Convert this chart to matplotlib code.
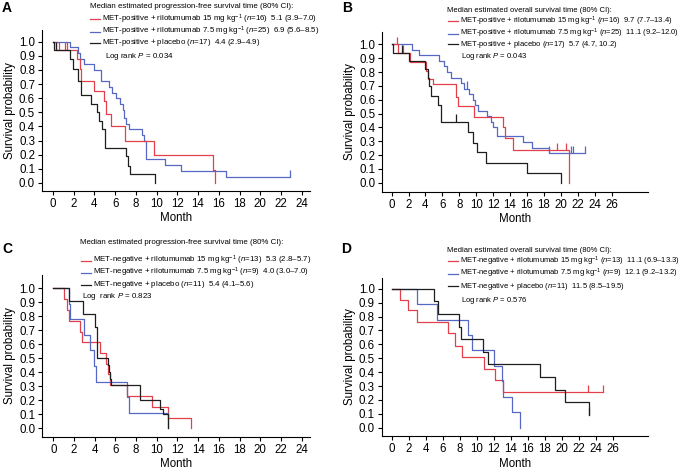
import matplotlib
matplotlib.use("Agg")
import matplotlib.pyplot as plt
from matplotlib.lines import Line2D
import numpy as np

plt.rcParams['font.family'] = ['Liberation Sans', 'DejaVu Sans']
plt.rcParams['mathtext.fontset'] = 'custom'
plt.rcParams['mathtext.rm'] = 'Liberation Sans'
plt.rcParams['mathtext.it'] = 'Liberation Sans:italic'

W, H = 685, 472
RED = '#e2404a'
BLUE = '#5468c4'
BLACK = '#1e1e1e'

# ---- panel A: MET-positive, progression-free survival
a_red_t = [0.3, 2.35, 2.6, 2.75, 4.0, 4.9, 5.1, 5.6, 6.95, 9.7, 15.4, 15.6]
a_red_s = [0.94, 0.875, 0.81, 0.72, 0.65, 0.58, 0.49, 0.40, 0.30, 0.20, 0.09, 0.0]
a_red_cens = [0.6, 1.2, 1.4]
a_blue_t = [1.6, 2.4, 2.6, 3.0, 4.0, 4.6, 5.4, 5.7, 6.1, 6.5, 6.8, 6.9, 7.0, 7.3, 8.6, 8.8, 9.0, 10.8, 12.4, 16.65]
a_blue_s = [0.96, 0.92, 0.88, 0.84, 0.80, 0.72, 0.68, 0.64, 0.60, 0.56, 0.52, 0.46, 0.42, 0.38, 0.34, 0.30, 0.17, 0.128, 0.085, 0.04]
a_blue_end = 22.9
a_blue_cens = [22.9]
a_black_t = [0.1, 1.65, 1.95, 2.45, 2.75, 3.7, 4.2, 4.45, 4.7, 5.0, 7.0, 7.25, 7.45, 9.8]
a_black_s = [0.94, 0.88, 0.81, 0.72, 0.62, 0.56, 0.50, 0.44, 0.38, 0.25, 0.19, 0.12, 0.06, 0.0]
a_black_cens = [0.3]

# ---- panel B: MET-positive, overall survival
b_red_t = [0.8, 2.15, 4.1, 4.3, 4.9, 7.6, 7.8, 9.75, 13.2, 13.4, 14.3, 21.0]
b_red_s = [0.94, 0.875, 0.81, 0.75, 0.71, 0.62, 0.555, 0.477, 0.405, 0.32, 0.235, 0.0]
b_red_cens = [0.6, 1.4, 19.6, 20.6]
b_blue_t = [2.4, 3.2, 5.6, 6.2, 6.6, 7.0, 8.2, 8.6, 9.1, 9.6, 9.8, 10.2, 11.3, 11.7, 12.0, 12.4, 15.5, 16.6, 18.6]
b_blue_s = [0.96, 0.92, 0.88, 0.84, 0.80, 0.76, 0.72, 0.68, 0.64, 0.60, 0.56, 0.52, 0.48, 0.44, 0.40, 0.34, 0.296, 0.253, 0.212]
b_blue_end = 22.9
b_blue_cens = [8.95, 18.6, 21.2, 21.4, 22.9]
b_black_t = [0.2, 2.0, 3.9, 4.3, 4.45, 4.6, 5.5, 5.85, 9.05, 9.6, 10.1, 11.2, 15.95, 19.97]
b_black_s = [0.94, 0.88, 0.82, 0.76, 0.70, 0.63, 0.56, 0.44, 0.37, 0.29, 0.22, 0.145, 0.072, 0.0]
b_black_cens = [1.2, 7.6]

# ---- panel C: MET-negative, progression-free survival
c_red_t = [1.0, 1.3, 1.55, 2.6, 2.8, 4.5, 5.1, 5.3, 5.5, 7.1, 9.5, 11.1, 13.3]
c_red_s = [0.923, 0.846, 0.77, 0.69, 0.615, 0.54, 0.46, 0.385, 0.31, 0.23, 0.155, 0.077, 0.0]
c_red_cens = []
c_blue_t = [1.5, 1.65, 3.0, 3.5, 3.9, 4.15, 7.1, 7.3, 11.05]
c_blue_s = [0.889, 0.778, 0.667, 0.556, 0.444, 0.333, 0.222, 0.111, 0.0]
c_blue_cens = []
c_black_t = [1.5, 2.85, 4.0, 4.2, 5.25, 5.35, 5.45, 5.55, 8.4, 10.3, 10.6, 11.05]
c_black_s = [0.909, 0.818, 0.727, 0.505, 0.45, 0.40, 0.35, 0.31, 0.205, 0.14, 0.10, 0.0]
c_black_cens = []

# ---- panel D: MET-negative, overall survival
d_red_t = [1.0, 1.95, 2.95, 6.65, 7.45, 8.3, 10.85, 12.15, 13.1]
d_red_s = [0.923, 0.846, 0.76, 0.68, 0.59, 0.51, 0.42, 0.34, 0.255]
d_red_end = 24.9
d_red_cens = [23.1, 24.9]
d_blue_t = [2.95, 5.3, 9.0, 9.4, 12.05, 13.0, 13.1, 14.1, 15.1]
d_blue_s = [0.889, 0.778, 0.667, 0.556, 0.444, 0.333, 0.222, 0.111, 0.0]
d_blue_cens = []
d_black_t = [5.0, 5.4, 7.9, 8.15, 10.8, 11.3, 17.45, 19.25, 20.4, 23.25]
d_black_s = [0.909, 0.818, 0.727, 0.636, 0.545, 0.455, 0.364, 0.273, 0.182, 0.09]
d_black_end = 23.25
d_black_cens = [23.25]

a_title = "Median estimated progression-free survival time (80% CI):"
a_labels = ["MET-positive + rilotumumab 15 mg kg$^{-1}$ ($n$=16)  5.1 (3.9–7.0)",
            "MET-positive + rilotumumab 7.5 mg kg$^{-1}$ ($n$=25)  6.9 (5.6–8.5)",
            "MET-positive + placebo ($n$=17)  4.4 (2.9–4.9)"]
a_p = "Log rank $P$ = 0.034"
b_title = "Median estimated overall survival time (80% CI):"
b_labels = ["MET-positive + rilotumumab 15 mg kg$^{-1}$ ($n$=16)  9.7 (7.7–13.4)",
            "MET-positive + rilotumumab 7.5 mg kg$^{-1}$ ($n$=25)  11.1 (9.2–12.0)",
            "MET-positive + placebo ($n$=17)  5.7 (4.7, 10.2)"]
b_p = "Log rank $P$ = 0.043"
c_title = "Median estimated progression-free survival time (80% CI):"
c_labels = ["MET-negative + rilotumumab 15 mg kg$^{-1}$ ($n$=13)  5.3 (2.8–5.7)",
            "MET-negative + rilotumumab 7.5 mg kg$^{-1}$ ($n$=9)  4.0 (3.0–7.0)",
            "MET-negative + placebo ($n$=11)  5.4 (4.1–5.6)"]
c_p = "Log  rank $P$ = 0.823"
d_title = "Median estimated overall survival time (80% CI):"
d_labels = ["MET-negative + rilotumumab 15 mg kg$^{-1}$ ($n$=13)  11.1 (6.9–13.3)",
            "MET-negative + rilotumumab 7.5 mg kg$^{-1}$ ($n$=9)  12.1 (9.2–13.2)",
            "MET-negative + placebo ($n$=11)  11.5 (8.5–19.5)"]
d_p = "Log rank $P$ = 0.576"


def km(ax, t, s, color, end=None, cens=()):
    if end is None:
        end = t[-1]
    x = [0.0] + list(t) + [end]
    y = [1.0] + list(s) + [s[-1]]
    ax.step(x, y, where='post', color=color, lw=0.9)
    for c in cens:
        idx = np.searchsorted(x, c, side='right') - 1
        lvl = y[idx]
        ax.vlines(c, lvl, lvl + 0.055, color=color, lw=0.9)


def setup(ax, xmax_tick, xlim, ylim):
    for sp in ['top', 'right']:
        ax.spines[sp].set_visible(False)
    ax.spines['left'].set_linewidth(0.8)
    ax.spines['bottom'].set_linewidth(0.8)
    ax.set_xlim(*xlim)
    ax.set_ylim(*ylim)
    ax.set_xticks(np.arange(0, xmax_tick + 1, 2))
    ax.set_yticks(np.round(np.arange(0, 1.01, 0.1), 1))
    ax.set_yticklabels([f"{v:.1f}" for v in np.arange(0, 1.01, 0.1)])
    ax.tick_params(labelsize=8.3, length=3, width=0.8, pad=2)
    ax.set_xlabel("Month", fontsize=8.3, labelpad=2)
    ax.set_ylabel("Survival probability", fontsize=8.3, labelpad=2)


def legend(title, labels, ptxt, tx, ty, hx, ly, px, py, fs=5.7):
    fig.text(tx / W, 1 - ty / H, title, fontsize=fs, va='center', ha='left')
    for lab, col, yy in zip(labels, [RED, BLUE, BLACK], ly):
        fig.add_artist(Line2D([hx / W, (hx + 9.5) / W], [1 - yy / H] * 2,
                              transform=fig.transFigure, color=col, lw=0.9))
        fig.text((hx + 12) / W, 1 - yy / H, lab, fontsize=fs, va='center', ha='left')
    fig.text(px / W, 1 - py / H, ptxt, fontsize=fs, va='center', ha='left')


fig = plt.figure(figsize=(W / 100, H / 100), dpi=100)

axA = fig.add_axes([42 / W, 1 - 190.7 / H, 268 / W, 160.7 / H])
axB = fig.add_axes([382.3 / W, 1 - 191.7 / H, 265.7 / W, 159.4 / H])
axC = fig.add_axes([42.3 / W, 1 - 436.7 / H, 267.7 / W, 161.4 / H])
axD = fig.add_axes([381.7 / W, 1 - 436 / H, 266.6 / W, 158.3 / H])

km(axA, a_blue_t, a_blue_s, BLUE, a_blue_end, a_blue_cens)
km(axA, a_red_t, a_red_s, RED, None, a_red_cens)
km(axA, a_black_t, a_black_s, BLACK, None, a_black_cens)
setup(axA, 24, (-1.06, 24.8), (-0.055, 1.083))

km(axB, b_blue_t, b_blue_s, BLUE, b_blue_end, b_blue_cens)
km(axB, b_red_t, b_red_s, RED, None, b_red_cens)
km(axB, b_black_t, b_black_s, BLACK, None, b_black_cens)
setup(axB, 26, (-1.1, 30.3), (-0.065, 1.087))

km(axC, c_red_t, c_red_s, RED, None, c_red_cens)
km(axC, c_blue_t, c_blue_s, BLUE, None, c_blue_cens)
km(axC, c_black_t, c_black_s, BLACK, None, c_black_cens)
setup(axC, 24, (-1.06, 24.8), (-0.06, 1.093))

km(axD, d_red_t, d_red_s, RED, d_red_end, d_red_cens)
km(axD, d_blue_t, d_blue_s, BLUE, None, d_blue_cens)
km(axD, d_black_t, d_black_s, BLACK, d_black_end, d_black_cens)
setup(axD, 26, (-1.18, 30.2), (-0.06, 1.08))

legend(a_title, a_labels, a_p, 90, 6.7, 90, [19, 31.5, 43], 105, 57)
legend(b_title, b_labels, b_p, 447, 11, 448, [21, 33.5, 44.3], 461, 56.5, fs=5.5)
legend(c_title, c_labels, c_p, 80, 243, 81, [260.5, 272.5, 284.5], 82, 297)
legend(d_title, d_labels, d_p, 447, 250, 448, [261, 273.5, 286], 461, 300, fs=5.5)

for lab, x, y in [("A", 2, 8), ("B", 342, 8), ("C", 2, 249), ("D", 341, 249)]:
    fig.text(x / W, 1 - y / H, lab, fontsize=10, fontweight='bold', va='center', ha='left')

fig.savefig("out.png", dpi=100)
